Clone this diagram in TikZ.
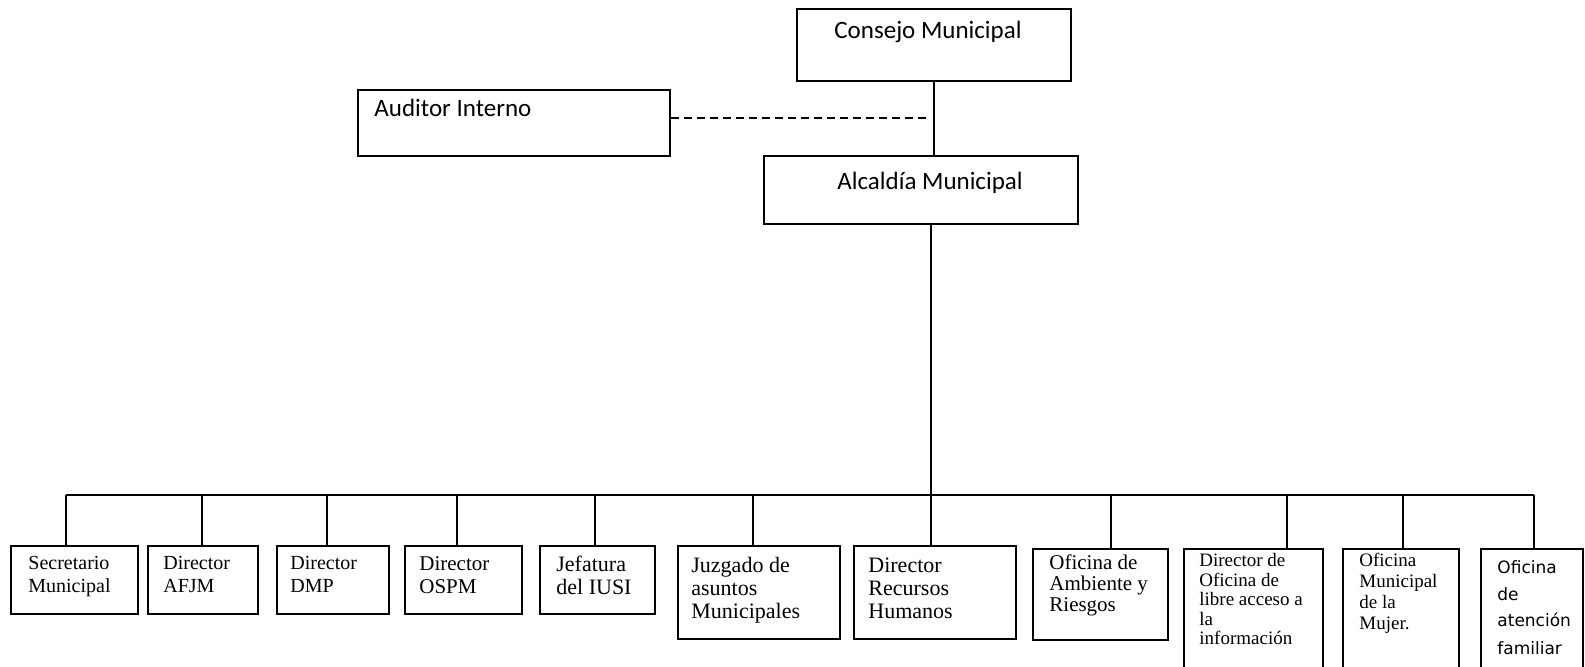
\documentclass[tikz,border=0pt]{standalone}
\usepackage{fontspec}
\setmainfont{Liberation Serif}
\newfontfamily\calfont{Carlito}
\newfontfamily\dvfont{DejaVu Sans}
\begin{document}
\begin{tikzpicture}[x=0.5pt,y=-0.5pt,
  box/.style={draw, line width=0.8pt, anchor=north west, inner sep=0pt},
  conn/.style={line width=0.8pt},
  dashconn/.style={line width=0.8pt, dash pattern=on 4pt off 2.5pt},
  ttl/.style={anchor=base west, inner sep=0pt, font=\calfont\fontsize{12.5}{14}\selectfont},
  lbl/.style={anchor=base west, inner sep=0pt, align=left},
]
\clip (0,0) rectangle (1585,667);
\fill[white] (0,0) rectangle (1585,667);

% top boxes
\node[box, minimum width=137pt, minimum height=36pt] (cons) at (796,8) {};
\node[box, minimum width=156pt, minimum height=33pt] (aud) at (357,89) {};
\node[box, minimum width=157pt, minimum height=34pt] (alc) at (763,155) {};
\node[ttl] (tcons) at (834,39) {Consejo Municipal};
\node[ttl] (taud) at (374,117) {Auditor Interno};
\node[ttl] (talc) at (837,190) {Alcaldía Municipal};

% bottom boxes
\node[box, minimum width=63.5pt, minimum height=34pt] (b1) at (10,545) {};
\node[box, minimum width=55pt, minimum height=34pt] (b2) at (147,545) {};
\node[box, minimum width=56pt, minimum height=34pt] (b3) at (276,545) {};
\node[box, minimum width=58.5pt, minimum height=34pt] (b4) at (404,545) {};
\node[box, minimum width=57.5pt, minimum height=34pt] (b5) at (539,545) {};
\node[box, minimum width=81pt, minimum height=46.5pt] (b6) at (677,545) {};
\node[box, minimum width=81pt, minimum height=46.5pt] (b7) at (853,545) {};
\node[box, minimum width=67.5pt, minimum height=45.5pt] (b8) at (1032,548) {};
\node[box, minimum width=69.5pt, minimum height=76pt] (b9) at (1183,548) {};
\node[box, minimum width=58pt, minimum height=76pt] (b10) at (1342,548) {};
\node[box, minimum width=51pt, minimum height=76pt] (b11) at (1480,548) {};

% labels (anchored at the baseline of their last line)
\node[lbl, font=\fontsize{10}{11.5}\selectfont] (l1) at (28,593) {Secretario\\Municipal};
\node[lbl, font=\fontsize{10}{11.5}\selectfont] (l2) at (163,593) {Director\\AFJM};
\node[lbl, font=\fontsize{10}{11.5}\selectfont] (l3) at (290,593) {Director\\DMP};
\node[lbl, font=\fontsize{10.5}{11.5}\selectfont] (l4) at (419,594) {Director\\OSPM};
\node[lbl, font=\fontsize{11}{11.5}\selectfont] (l5) at (556,595) {Jefatura\\del IUSI};
\node[lbl, font=\fontsize{11}{11.5}\selectfont] (l6) at (691,618) {Juzgado de\\asuntos\\Municipales};
\node[lbl, font=\fontsize{11}{11.5}\selectfont] (l7) at (868,618) {Director\\Recursos\\Humanos};
\node[lbl, font=\fontsize{10.5}{10.5}\selectfont] (l8) at (1049,612) {Oficina de\\Ambiente y\\Riesgos};
\node[lbl, font=\fontsize{9.5}{9.75}\selectfont] (l9) at (1199,645) {Director de\\Oficina de\\libre acceso a\\la\\información};
\node[lbl, font=\fontsize{9.5}{10.5}\selectfont] (l10) at (1359,630) {Oficina\\Municipal\\de la\\Mujer.};
\node[lbl, font=\dvfont\fontsize{8.5}{13.5}\selectfont] (l11) at (1497,654) {Oficina\\de\\atención\\familiar};

% connectors
\coordinate (dj) at (930,118);
\coordinate (bt) at (931,495);
\draw[conn] (cons.south) -- (cons.south |- alc.north);
\draw[dashconn] (aud.east |- dj) -- (dj);
\draw[conn] (alc.south -| bt) -- (bt);

\coordinate (d1) at (66,495);
\coordinate (d2) at (202,495);
\coordinate (d3) at (327,495);
\coordinate (d4) at (457,495);
\coordinate (d5) at (595,495);
\coordinate (d6) at (753,495);
\coordinate (d7) at (931,495);
\coordinate (d8) at (1111,495);
\coordinate (d9) at (1287,495);
\coordinate (d10) at (1403,495);
\coordinate (d11) at (1534,495);
\draw[conn] (d1) -- (d11);
\foreach \i in {1,...,11} {
  \draw[conn] (d\i) -- (d\i |- b\i.north);
}
\end{tikzpicture}
\end{document}
